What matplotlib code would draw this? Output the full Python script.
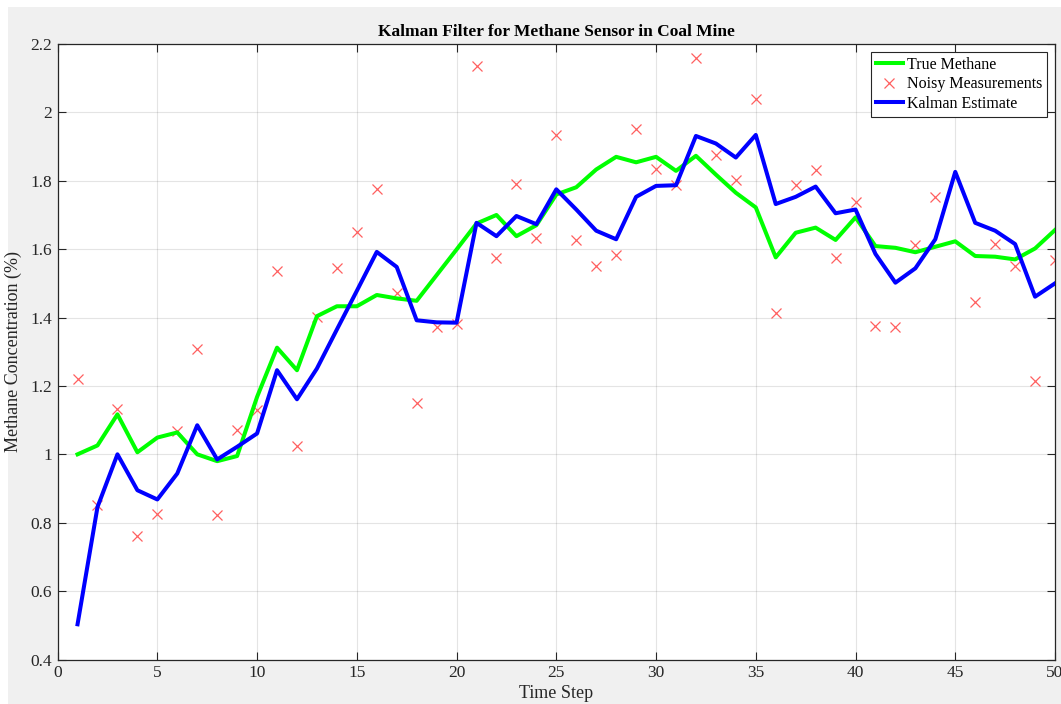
import numpy as np
import matplotlib
matplotlib.use("Agg")
from matplotlib import pyplot as plt
from matplotlib.patches import Rectangle

# Data
time_step = list(range(1, 51))
true_methane = [1.000, 1.026, 1.117, 1.006, 1.049, 1.064, 1.000, 0.980, 0.995, 1.168,
                1.312, 1.246, 1.404, 1.433, 1.433, 1.466, 1.456, 1.449, 1.524, 1.599,
                1.675, 1.700, 1.638, 1.670, 1.760, 1.781, 1.833, 1.870, 1.854, 1.870,
                1.829, 1.873, 1.818, 1.765, 1.722, 1.576, 1.648, 1.663, 1.627, 1.693,
                1.609, 1.604, 1.591, 1.607, 1.623, 1.580, 1.578, 1.570, 1.602, 1.656]
noisy_meas = [1.220, 0.853, 1.134, 0.762, 0.825, 1.068, 1.307, 0.822, 1.071, 1.129,
              1.536, 1.025, 1.402, 1.544, 1.651, 1.776, 1.473, 1.149, 1.373, 1.381,
              2.136, 1.575, 1.790, 1.634, 1.935, 1.627, 1.551, 1.582, 1.950, 1.833,
              1.787, 2.158, 1.875, 1.802, 2.038, 1.414, 1.787, 1.831, 1.575, 1.737,
              1.375, 1.373, 1.612, 1.753, 2.110, 1.446, 1.615, 1.551, 1.214, 1.568]
kalman_est = [0.503, 0.846, 1.000, 0.895, 0.868, 0.944, 1.085, 0.985, 1.022, 1.061,
              1.246, 1.161, 1.251, 1.365, 1.478, 1.592, 1.548, 1.392, 1.386, 1.385,
              1.677, 1.638, 1.697, 1.673, 1.775, 1.716, 1.654, 1.629, 1.753, 1.785,
              1.787, 1.931, 1.909, 1.868, 1.934, 1.732, 1.753, 1.783, 1.705, 1.716,
              1.586, 1.502, 1.544, 1.629, 1.826, 1.677, 1.654, 1.615, 1.461, 1.500]

plt.rcParams['font.family'] = ['Liberation Serif', 'DejaVu Serif']
W, H = 1061, 704
fig = plt.figure(figsize=(W / 100, H / 100), dpi=100, facecolor='white')
# matlab-ish grey figure background with a thin white strip top/left
fig.patches.append(Rectangle((8 / W, 0), 1, 1 - 7 / H, transform=fig.transFigure,
                             facecolor='#f0f0f0', edgecolor='none', zorder=-10))

ax = fig.add_axes([57.6 / W, 1 - 659.5 / H, (1055 - 57.6) / W, (659.5 - 44) / H])
ax.set_facecolor('white')

ax.plot(time_step, true_methane, color=(0, 1, 0), lw=2.9, label='True Methane', zorder=3)
ax.plot(time_step, noisy_meas, 'x', color='#ff6060', ms=6.5, mew=0.9,
        label='Noisy Measurements', zorder=2)
ax.plot(time_step, kalman_est, color=(0, 0, 1), lw=2.9, label='Kalman Estimate', zorder=4)

ax.set_xlim(0, 50)
ax.set_ylim(0.4, 2.2)
ax.set_xticks(np.arange(0, 51, 5))
ax.set_yticks(np.arange(0.4, 2.21, 0.2))
ax.yaxis.set_major_formatter(matplotlib.ticker.FormatStrFormatter('%g'))
ax.grid(True, color='#262626', alpha=0.12, lw=0.8)
ax.set_axisbelow(True)
ax.tick_params(direction='in', top=True, right=True, length=6, width=0.8,
               colors='#262626', labelsize=12.5, pad=4)
for s in ax.spines.values():
    s.set_color('#262626')
    s.set_linewidth(0.9)

ax.set_title('Kalman Filter for Methane Sensor in Coal Mine', fontsize=12.5,
             fontweight='bold', pad=6)
ax.set_xlabel('Time Step', fontsize=13, color='#262626', labelpad=3)
ax.set_ylabel('Methane Concentration (%)', fontsize=13, color='#262626', labelpad=6)

leg = ax.legend(loc='upper right', fontsize=11.5, frameon=True, fancybox=False,
                borderpad=0.3, labelspacing=0.22, handlelength=1.7, handletextpad=0.25,
                borderaxespad=0.5)
leg.get_frame().set_edgecolor('#262626')
leg.get_frame().set_linewidth(0.8)
leg.get_frame().set_alpha(1)
leg.set_zorder(10)

fig.savefig('out.png', dpi=100, facecolor=fig.get_facecolor())
